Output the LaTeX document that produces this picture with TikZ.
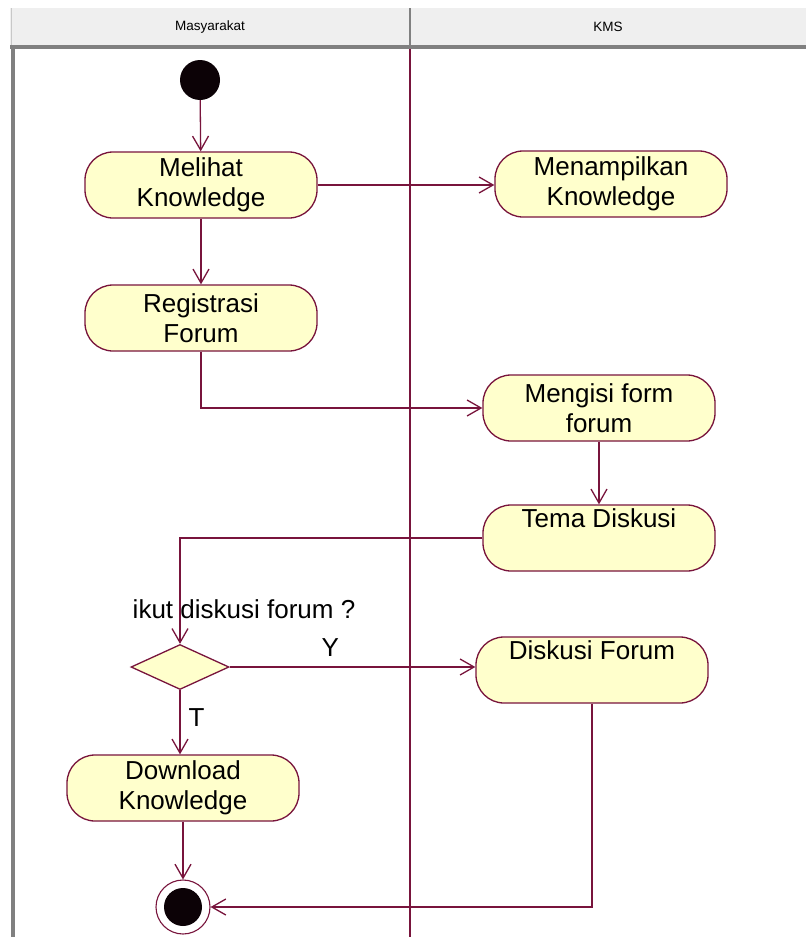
\documentclass[tikz,border=0pt]{standalone}
\usepackage{fontspec}
\setmainfont{Liberation Sans}
\usetikzlibrary{arrows.meta,shapes.geometric}
\definecolor{wire}{RGB}{120,20,60}
\definecolor{actfill}{RGB}{255,255,204}
\definecolor{headfill}{RGB}{239,239,239}
\definecolor{headrule}{RGB}{128,128,128}
\definecolor{headedge}{RGB}{200,200,200}
\begin{document}
\begin{tikzpicture}[x=1pt,y=-1pt,
  activity/.style={draw=wire, line width=1.3pt, fill=actfill, rounded corners=28pt,
    minimum width=232pt, minimum height=66pt, inner sep=0pt, align=center,
    font=\fontsize{26}{30}\selectfont},
  flow/.style={draw=wire, line width=1.3pt, -{Straight Barb[length=14pt,width=16pt]}},
  lanehead/.style={font=\fontsize{13.5}{16}\selectfont, inner sep=0pt},
  guard/.style={font=\fontsize{26}{30}\selectfont, inner sep=0pt},
  decision/.style={draw=wire, line width=1.3pt, fill=actfill, diamond, aspect=2.2,
    minimum width=98pt, minimum height=45pt, inner sep=0pt},
  startdot/.style={circle, fill=black!90!wire, minimum size=40pt, inner sep=0pt},
  enddot/.style={circle, draw=wire, line width=1.1pt, fill=white, minimum size=54pt, inner sep=0pt}
]
% canvas
\fill[white] (0,0) rectangle (806,937);
\useasboundingbox (0,0) rectangle (806,937);

% swimlane header and borders
\fill[headfill] (10,8) rectangle (806,45);
\draw[headedge, line width=1pt] (11,8) -- (11,45);
\draw[headrule, line width=4pt] (10,47) -- (806,47);
\draw[headrule, line width=4pt] (13,45) -- (13,937);
\draw[headrule, line width=1.5pt] (410,8) -- (410,45);
\draw[wire, line width=1.5pt] (410,49) -- (410,937);
\node[lanehead] (laneA) at (210,27) {Masyarakat};
\node[lanehead] (laneB) at (608,27) {KMS};

% activity nodes
\node[startdot] (start) at (200,80) {};
\node[activity] (melihat) at (201,185) {Melihat\\Knowledge};
\node[activity] (menampilkan) at (611,184) {Menampilkan\\Knowledge};
\node[activity] (registrasi) at (201,318) {Registrasi\\Forum};
\node[activity] (mengisi) at (599,408) {Mengisi form\\forum};
\node[activity] (tema) at (599,538) {Tema Diskusi\\\strut};
\node[decision] (choice) at (180,667) {};
\node[guard] (question) at (244,609) {ikut diskusi forum ?};
\node[activity] (diskusi) at (592,670) {Diskusi Forum\\\strut};
\node[activity] (download) at (183,788) {Download\\Knowledge};
\node[enddot] (final) at (183,907) {};
\fill[black!90!wire] (final) circle (19pt);

% flows
\draw[flow] (start) -- (melihat);
\draw[flow] (melihat.east) -- (melihat.east -| menampilkan.west);
\draw[flow] (melihat.south) -- (registrasi.north);
\draw[flow] (registrasi.south) |- (mengisi.west);
\draw[flow] (mengisi) -- (tema);
\draw[flow] (tema.west) -| (choice.north);
\draw[flow] (choice.east) -- node[guard, above=10pt, pos=0.41] (yes) {Y} (choice.east -| diskusi.west);
\draw[flow] (choice.south) -- node[guard, right=8pt, pos=0.42] (no) {T} (choice.south |- download.north);
\draw[flow] (download) -- (final);
\draw[flow] (diskusi.south) |- (final.east);
\end{tikzpicture}
\end{document}
